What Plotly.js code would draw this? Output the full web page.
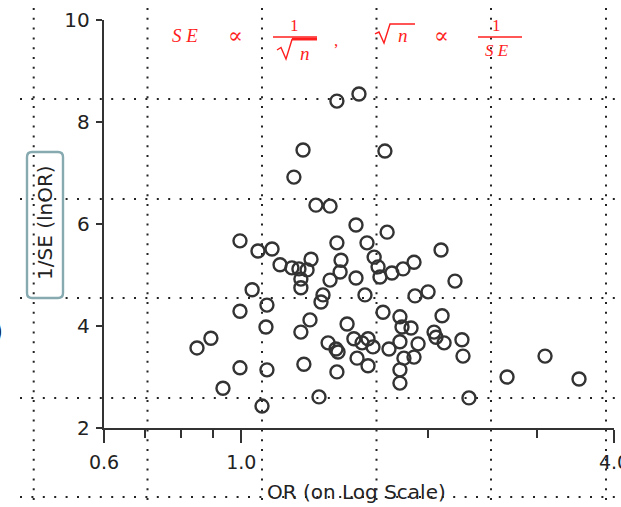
<!DOCTYPE html>
<html><head><meta charset="utf-8">
<script src="https://cdn.plot.ly/plotly-3.0.1.min.js"></script>
<style>html,body{margin:0;padding:0;background:#fff}#chart{width:621px;height:507px}</style>
</head><body><div id="chart"></div>
<script>
// ---- data ----
const orValues = [1.427,1.549,1.258,1.706,1.216,1.320,1.391,1.532,1.720,0.995,
  1.064,1.121,1.427,1.596,2.102,1.155,1.207,1.239,1.277,1.248,
  1.248,1.041,1.296,1.449,1.639,1.444,1.663,1.751,1.825,1.901,
  1.391,1.532,1.675,1.355,1.584,1.345,0.995,1.100,1.096,1.291,
  1.248,0.893,0.848,1.482,1.694,1.381,1.422,1.433,1.520,1.567,
  1.602,1.632,1.732,1.538,1.602,1.262,1.427,1.335,0.995,1.100,
  0.934,1.080,1.804,1.818,1.804,1.831,1.804,1.804,1.880,1.930,
  1.901,2.048,2.063,2.126,2.272,2.281,2.110,2.214,2.003,1.908,
  2.332,2.687,3.095,3.512];
const invSE = [8.41,8.55,7.45,7.43,6.92,6.37,6.35,5.98,5.84,5.67,
  5.47,5.51,5.63,5.63,5.49,5.20,5.14,5.12,5.10,4.92,
  4.75,4.71,5.31,5.29,5.35,5.06,5.16,5.04,5.12,5.25,
  4.90,4.94,4.96,4.61,4.61,4.47,4.29,4.41,3.98,4.12,
  3.88,3.76,3.57,4.04,4.27,3.67,3.55,3.49,3.75,3.67,
  3.75,3.59,3.55,3.37,3.22,3.25,3.10,2.61,3.18,3.14,
  2.78,2.43,4.18,3.98,3.69,3.37,3.14,2.88,3.96,3.65,
  3.39,3.88,3.78,3.67,3.73,3.41,4.20,4.88,4.67,4.59,
  2.59,3.00,3.41,2.96];
const xTickVals = [0.6, 1.0, 4.0];
const xTickText = ['0.6', '1.0', '4.0'];
const xMinorVals = [0.7, 0.8, 0.9, 2, 3];
const yTickVals = [2, 4, 6, 8, 10];
const xTitle = 'OR (on Log Scale)';
const yTitle = '1/SE (lnOR)';

// ---- helpers: pixel -> paper (plot area is 104..614 x 20..428) ----
const L = 104, T = 20, W = 510, H = 408;
const PX = v => (v - L) / W;
const PY = v => (T + H - v) / H;
const path = pts => 'M ' + pts.map(p => PX(p[0]).toFixed(5) + ',' + PY(p[1]).toFixed(5)).join(' L ');

const shapes = [];
// dotted overlay grid
[33.7, 147.5, 262, 376.5, 491, 606].forEach(x => shapes.push({
  type: 'line', xref: 'paper', yref: 'paper', x0: PX(x), x1: PX(x), y0: PY(8), y1: PY(507),
  line: {color: '#222', width: 2, dash: '2px,7.8px'}, layer: 'below'}));
[99, 199, 298, 398, 497].forEach(y => shapes.push({
  type: 'line', xref: 'paper', yref: 'paper', x0: PX(20), x1: PX(621), y0: PY(y), y1: PY(y),
  line: {color: '#222', width: 2, dash: '2px,9.4px'}, layer: 'below'}));

// formula strokes (red)
const red = '#ff1e1e';
shapes.push({type: 'path', xref: 'paper', yref: 'paper', path: path([[273,37],[317,37]]), line: {color: red, width: 1.5}});
shapes.push({type: 'path', xref: 'paper', yref: 'paper', path: path([[277,50],[281,47.5],[286,59],[292,39.5],[317,39.5]]), line: {color: red, width: 1.4}});
shapes.push({type: 'path', xref: 'paper', yref: 'paper', path: path([[292,39],[317,39]]), line: {color: red, width: 2.6}});
shapes.push({type: 'path', xref: 'paper', yref: 'paper', path: path([[375,34],[379,32],[384,43],[390,24],[415,24]]), line: {color: red, width: 1.4}});
shapes.push({type: 'path', xref: 'paper', yref: 'paper', path: path([[478,37],[522,37]]), line: {color: red, width: 1.5}});

// rounded box around y title
const bx0 = 27, bx1 = 63, by0 = 152, by1 = 298, r = 5;
const q = (x, y) => PX(x).toFixed(5) + ',' + PY(y).toFixed(5);
shapes.push({type: 'path', xref: 'paper', yref: 'paper', layer: 'above',
  path: 'M ' + q(bx0 + r, by0) + ' L ' + q(bx1 - r, by0) + ' Q ' + q(bx1, by0) + ' ' + q(bx1, by0 + r) +
        ' L ' + q(bx1, by1 - r) + ' Q ' + q(bx1, by1) + ' ' + q(bx1 - r, by1) +
        ' L ' + q(bx0 + r, by1) + ' Q ' + q(bx0, by1) + ' ' + q(bx0, by1 - r) +
        ' L ' + q(bx0, by0 + r) + ' Q ' + q(bx0, by0) + ' ' + q(bx0 + r, by0) + ' Z',
  line: {color: '#86aab0', width: 2.4}, fillcolor: 'rgba(0,0,0,0)'});

const ann = (text, x, y, font, extra) => Object.assign({xref: 'paper', yref: 'paper', x: PX(x), y: PY(y),
  text: text, showarrow: false, xanchor: 'center', yanchor: 'middle', font: font}, extra || {});
const fSerifI = {family: 'Liberation Serif, serif', size: 19, color: red, style: 'italic'};
const fSerif = {family: 'Liberation Serif, serif', size: 17, color: red};
const fSym = {family: 'DejaVu Serif, serif', size: 22, color: red, style: 'italic'};
const annotations = [
  ann('S E', 185, 36, fSerifI),
  ann('\u221D', 235, 36, fSym),
  ann('1', 294, 26, fSerif),
  ann('n', 305, 53, fSerifI),
  ann(',', 336, 40, fSerif),
  ann('n', 403, 36, fSerifI),
  ann('\u221D', 441, 36, fSym),
  ann('1', 496, 26, fSerif),
  ann('S E', 497, 51, Object.assign({}, fSerifI, {size: 17})),
  ann(yTitle, 45, 223, {family: 'DejaVu Sans, sans-serif', size: 20, color: '#222'}, {textangle: -90}),
  ann(xTitle, 356, 492, {family: 'DejaVu Sans, sans-serif', size: 20, color: '#222'}),
  ann(')', -2, 331, {family: 'DejaVu Sans, sans-serif', size: 26, color: '#111'})
];

const trace = {
  type: 'scatter', mode: 'markers', x: orValues, y: invSE,
  marker: {symbol: 'circle-open', size: 13, color: '#333', line: {width: 2.4}},
  hoverinfo: 'skip', cliponaxis: false
};

const layout = {
  width: 621, height: 507,
  margin: {l: L, r: 621 - L - W, t: T, b: 507 - T - H, pad: 0},
  paper_bgcolor: '#fff', plot_bgcolor: 'rgba(0,0,0,0)',
  showlegend: false,
  xaxis: {
    type: 'log', range: [Math.log10(0.6), Math.log10(4)],
    tickmode: 'array', tickvals: xTickVals, ticktext: xTickText,
    ticks: 'outside', ticklen: 13, tickwidth: 2, tickcolor: '#333',
    showline: true, linecolor: '#333', linewidth: 2.2,
    showgrid: false, zeroline: false, ticklabeloverflow: 'allow', ticklabelstandoff: 3,
    tickfont: {family: 'DejaVu Sans, sans-serif', size: 19, color: '#222'},
    minor: {tickmode: 'array', tickvals: xMinorVals, ticks: 'outside', ticklen: 8, tickwidth: 2, tickcolor: '#333', showgrid: false}
  },
  yaxis: {
    range: [2, 10], tickmode: 'array', tickvals: yTickVals,
    ticks: 'outside', ticklen: 6, tickwidth: 2, tickcolor: '#333',
    showline: true, linecolor: '#333', linewidth: 2.2,
    showgrid: false, zeroline: false, ticklabelstandoff: 2,
    tickfont: {family: 'DejaVu Sans, sans-serif', size: 20, color: '#222'}
  },
  shapes: shapes,
  annotations: annotations
};

Plotly.newPlot('chart', [trace], layout, {displayModeBar: false, staticPlot: true});
</script>
</body></html>
